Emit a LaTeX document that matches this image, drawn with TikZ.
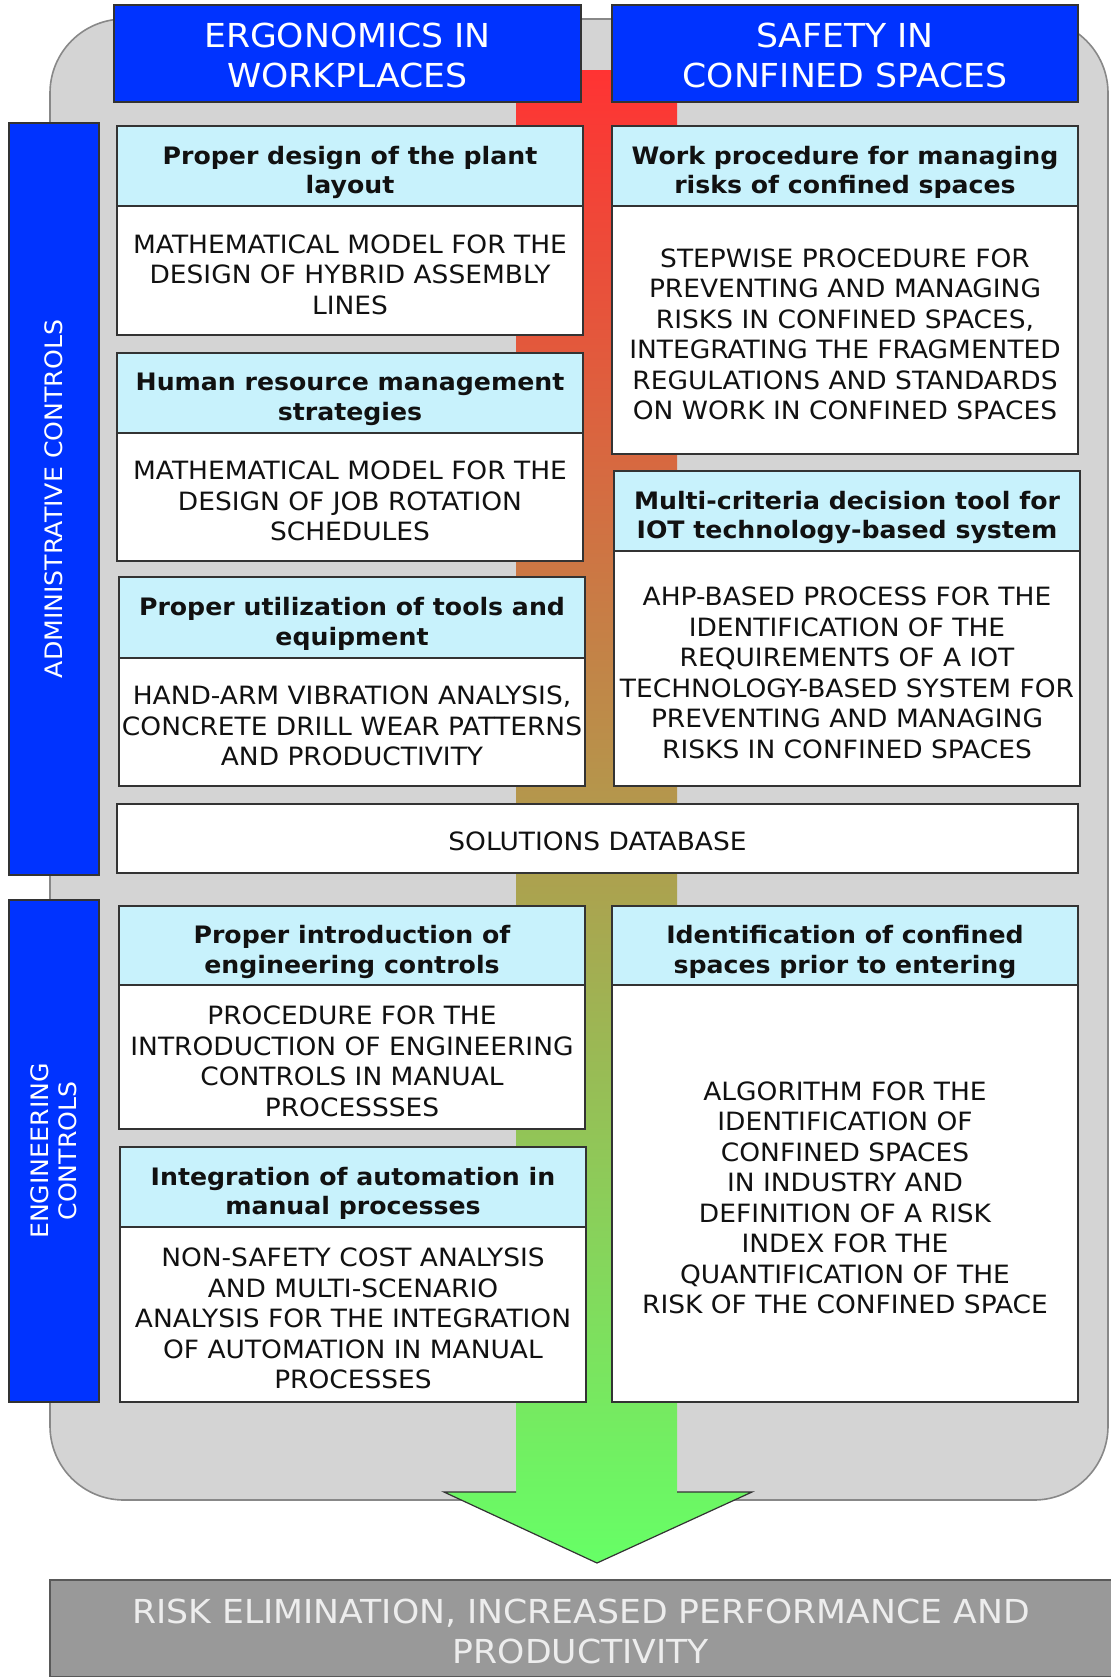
\documentclass[tikz,border=0pt]{standalone}
\usepackage{fontspec}
\setmainfont{DejaVu Sans}[FakeStretch=1.05]
\definecolor{bgg}{HTML}{D4D4D4}
\definecolor{bgedge}{HTML}{888888}
\definecolor{hblue}{HTML}{0033FF}
\definecolor{hcyan}{HTML}{C8F2FC}
\definecolor{botg}{HTML}{999999}
\definecolor{arrred}{HTML}{FF3333}
\definecolor{arrgreen}{HTML}{66FF66}
\definecolor{edge}{HTML}{333333}
\definecolor{txt}{HTML}{111111}
% #1 name, #2-#5 x1 y1 x2 y2 (px), #6 style, #7 text, #8 downward text shift (pt)
\newcommand\bx[8]{%
  \pgfmathsetmacro\bxw{((#4)-(#2))*0.5}%
  \pgfmathsetmacro\bxh{((#5)-(#3))*0.5}%
  \node[#6, minimum width=\bxw pt, minimum height=\bxh pt] (#1) at ({((#2)+(#4))/2},{((#3)+(#5))/2}) {};
  \node[#6, draw=none, fill=none, yshift=-#8pt] (#1t) at (#1.center) {#7};}
\tikzset{
  boxbase/.style={draw=edge, line width=0.8pt, inner sep=0pt, align=center},
  hdr/.style={boxbase, fill=hcyan, text=txt, font=\bfseries\fontsize{12}{14.75}\selectfont},
  bodyb/.style={boxbase, fill=white, text=txt, font=\fontsize{12.6}{15.25}\selectfont},
  titleb/.style={boxbase, fill=hblue, text=white, font=\fontsize{16.5}{20}\selectfont},
  sideb/.style={boxbase, fill=hblue, text=white, rotate=90, font=\fontsize{12}{14}\selectfont},
  bottomb/.style={draw=gray!70!black, line width=0.8pt, inner sep=0pt, align=center, fill=botg, text=white!93!black, font=\fontsize{16.5}{20}\selectfont},
}
\begin{document}
\begin{tikzpicture}[x=0.5pt, y=-0.5pt]
\useasboundingbox (0,0) rectangle (1110,1677);
% grey background panel
\draw[fill=bgg, draw=bgedge, line width=0.8pt, rounded corners=37pt] (50,19) rectangle (1108,1500);
% gradient arrow
\shade[top color=arrred, bottom color=arrgreen] (516,70) -- (677,70) -- (677,1492) -- (752,1492) -- (597,1563) -- (444,1492) -- (516,1492) -- cycle;
\draw[edge, line width=0.6pt] (516,1492) -- (444,1492) -- (597,1563) -- (752,1492) -- (677,1492);
% titles
\bx{tErg}{114}{5}{581}{102}{titleb}{ERGONOMICS IN\\WORKPLACES}{1.1}
\bx{tSaf}{612}{5}{1078}{102}{titleb}{SAFETY IN\\CONFINED SPACES}{1.1}
% left column, administrative
\bx{b1}{117}{206}{583}{335}{bodyb}{MATHEMATICAL MODEL FOR THE\\DESIGN OF HYBRID ASSEMBLY\\LINES}{2.1}
\bx{h1}{117}{126}{583}{206}{hdr}{Proper design of the plant\\layout}{3.2}
\bx{b2}{117}{433}{583}{561}{bodyb}{MATHEMATICAL MODEL FOR THE\\DESIGN OF JOB ROTATION\\SCHEDULES}{2.1}
\bx{h2}{117}{353}{583}{433}{hdr}{Human resource management\\strategies}{3.2}
\bx{b3}{119}{658}{585}{786}{bodyb}{HAND-ARM VIBRATION ANALYSIS,\\CONCRETE DRILL WEAR PATTERNS\\AND PRODUCTIVITY}{2.1}
\bx{h3}{119}{577}{585}{658}{hdr}{Proper utilization of tools and\\equipment}{3.2}
% right column, administrative
\bx{rb1}{612}{206}{1078}{454}{bodyb}{STEPWISE PROCEDURE FOR\\PREVENTING AND MANAGING\\RISKS IN CONFINED SPACES,\\INTEGRATING THE FRAGMENTED\\REGULATIONS AND STANDARDS\\ON WORK IN CONFINED SPACES}{2.1}
\bx{rh1}{612}{126}{1078}{206}{hdr}{Work procedure for managing\\risks of confined spaces}{3.2}
\bx{rb2}{614}{551}{1080}{786}{bodyb}{AHP-BASED PROCESS FOR THE\\IDENTIFICATION OF THE\\REQUIREMENTS OF A IOT\\TECHNOLOGY-BASED SYSTEM FOR\\PREVENTING AND MANAGING\\RISKS IN CONFINED SPACES}{2.1}
\bx{rh2}{614}{471}{1080}{551}{hdr}{Multi-criteria decision tool for\\IOT technology-based system}{3.2}
% solutions database
\bx{sol}{117}{804}{1078}{873}{bodyb}{SOLUTIONS DATABASE}{1.5}
% engineering controls
\bx{eb1}{119}{985}{585}{1129}{bodyb}{PROCEDURE FOR THE\\INTRODUCTION OF ENGINEERING\\CONTROLS IN MANUAL\\PROCESSSES}{2.1}
\bx{eh1}{119}{906}{585}{985}{hdr}{Proper introduction of\\engineering controls}{3.2}
\bx{eb2}{120}{1227}{586}{1402}{bodyb}{NON-SAFETY COST ANALYSIS\\AND MULTI-SCENARIO\\ANALYSIS FOR THE INTEGRATION\\OF AUTOMATION IN MANUAL\\PROCESSES}{2.1}
\bx{eh2}{120}{1147}{586}{1227}{hdr}{Integration of automation in\\manual processes}{3.2}
\bx{erb}{612}{985}{1078}{1402}{bodyb}{ALGORITHM FOR THE\\IDENTIFICATION OF\\CONFINED SPACES\\IN INDUSTRY AND\\DEFINITION OF A RISK\\INDEX FOR THE\\QUANTIFICATION OF THE\\RISK OF THE CONFINED SPACE}{2.1}
\bx{erh}{612}{906}{1078}{985}{hdr}{Identification of confined\\spaces prior to entering}{3.2}
% side bars (rotated: width/height swapped)
\node[sideb, minimum width=376pt, minimum height=45pt] (adm) at (54,499) {ADMINISTRATIVE CONTROLS};
\node[sideb, minimum width=251pt, minimum height=45pt] (eng) at (54,1151) {ENGINEERING\\CONTROLS};
% bottom result
\bx{res}{50}{1580}{1112}{1677}{bottomb}{RISK ELIMINATION, INCREASED PERFORMANCE AND\\PRODUCTIVITY}{1.6}
\end{tikzpicture}
\end{document}
